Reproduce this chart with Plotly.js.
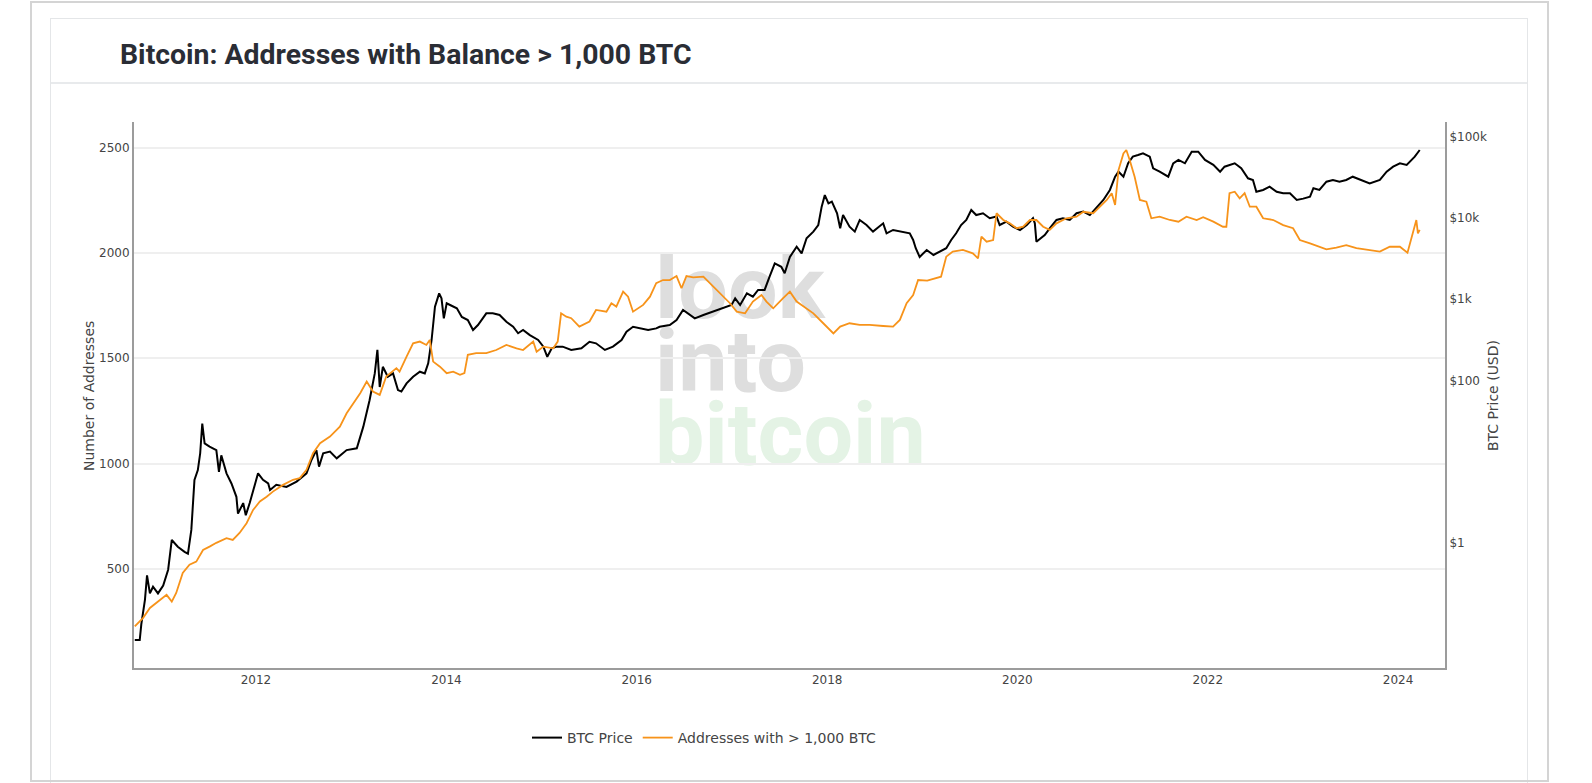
<!DOCTYPE html>
<html>
<head>
<meta charset="utf-8">
<script src="https://cdn.plot.ly/plotly-3.0.1.min.js"></script>
<style>
  html, body { margin:0; padding:0; background:#fff; }
  #wrap { position:relative; width:1592px; height:783px; overflow:hidden; }
  #bg { position:absolute; left:0; top:0; z-index:0; }
  #chart { position:absolute; left:0; top:0; z-index:1; width:1592px; height:783px; }
</style>
</head>
<body>
<div id="wrap">
<svg id="bg" width="1592" height="783" xmlns="http://www.w3.org/2000/svg">
  <rect x="0" y="0" width="1592" height="783" fill="#ffffff"/>
  <rect x="50.5" y="18.5" width="1477" height="780" fill="#ffffff" stroke="#e4e6e8" stroke-width="1"/>
  <rect x="31" y="2" width="1517" height="779" fill="none" stroke="#d4d4d4" stroke-width="2"/>
  <line x1="51" y1="83" x2="1527" y2="83" stroke="#e8eaec" stroke-width="2"/>
  <text font-family="Roboto, 'Noto Sans', sans-serif" font-weight="700" font-size="88">
    <tspan x="655" y="318" fill="#dedede">look</tspan>
    <tspan x="655" y="391" fill="#dedede">into</tspan>
    <tspan x="655" y="464" fill="#e4f3e5">bitcoin</tspan>
  </text>
</svg>
<div id="chart"></div>
</div>
<script>
// ---- data ----
const btcDates = [
'2010-09-23','2010-10-12','2010-10-18','2010-11-01','2010-11-09','2010-11-20','2010-12-02','2010-12-21',
'2011-01-10','2011-01-29','2011-02-12','2011-03-07','2011-04-02','2011-04-15','2011-04-28','2011-05-10',
'2011-05-23','2011-06-01','2011-06-09','2011-06-18','2011-07-07','2011-08-02','2011-08-12','2011-08-21',
'2011-09-10','2011-09-29','2011-10-18','2011-10-24','2011-11-13','2011-11-23','2011-12-08','2011-12-27',
'2012-01-09','2012-01-28','2012-02-17','2012-02-24','2012-03-19','2012-04-27','2012-06-05','2012-07-13',
'2012-08-01','2012-08-20','2012-08-30','2012-09-15','2012-10-11','2012-11-06','2012-12-14',
'2013-01-22','2013-02-16','2013-03-12','2013-04-01','2013-04-11','2013-04-20','2013-05-02','2013-05-21',
'2013-06-10','2013-06-29','2013-07-12','2013-08-01','2013-08-26','2013-09-21','2013-10-10','2013-10-23',
'2013-11-05','2013-11-18','2013-12-04','2013-12-13','2013-12-22',
'2014-01-02','2014-01-15','2014-02-10','2014-03-01','2014-03-24','2014-04-13','2014-05-02','2014-06-03',
'2014-06-28','2014-07-24','2014-08-19','2014-09-14','2014-10-03','2014-10-22','2014-11-17','2014-12-19',
'2015-01-08','2015-01-23','2015-02-09','2015-02-28','2015-03-23','2015-04-25','2015-06-03','2015-07-04',
'2015-07-29','2015-09-01','2015-10-02','2015-11-04','2015-11-23','2015-12-18',
'2016-01-13','2016-02-14','2016-03-16','2016-03-29','2016-05-07','2016-06-02','2016-06-27','2016-07-16',
'2016-08-11','2016-09-13','2016-10-21','2016-11-28','2016-12-30',
'2017-01-13','2017-02-01','2017-02-27','2017-03-22','2017-04-11','2017-05-06','2017-05-25','2017-06-14',
'2017-07-09','2017-07-22','2017-08-11','2017-09-06','2017-09-25','2017-10-14','2017-11-09','2017-11-28',
'2017-12-11','2017-12-23',
'2018-01-06','2018-01-19','2018-02-08','2018-02-20','2018-03-03','2018-03-28','2018-04-17','2018-05-06',
'2018-06-01','2018-06-26','2018-08-04','2018-08-17','2018-09-11','2018-10-19','2018-11-14','2018-11-27',
'2018-12-07','2018-12-22',
'2019-01-18','2019-02-13','2019-03-08','2019-04-03','2019-04-22','2019-05-11','2019-05-30','2019-06-19',
'2019-07-08','2019-07-27','2019-08-22','2019-09-17','2019-10-13','2019-10-25','2019-11-20','2019-12-15',
'2020-01-11','2020-02-06','2020-03-01','2020-03-08','2020-03-14','2020-04-15','2020-05-04','2020-05-30',
'2020-06-24','2020-07-20','2020-08-15','2020-09-10','2020-10-05','2020-11-01','2020-11-26','2020-12-21',
'2021-01-10','2021-01-23','2021-02-11','2021-03-01','2021-03-19','2021-04-08','2021-04-27','2021-05-23',
'2021-06-05','2021-06-30','2021-08-02','2021-08-21','2021-09-10','2021-10-05','2021-10-31','2021-11-25',
'2021-12-21',
'2022-01-22','2022-02-17','2022-03-06','2022-04-14','2022-05-09','2022-06-04','2022-06-23','2022-07-06',
'2022-08-01','2022-08-26','2022-09-22','2022-10-17','2022-11-12','2022-12-08',
'2023-01-02','2023-01-28','2023-02-10','2023-03-05','2023-04-01','2023-04-26','2023-05-21','2023-06-16',
'2023-07-11','2023-08-13','2023-09-14','2023-10-23','2023-11-18','2023-12-13',
'2024-01-08','2024-02-03','2024-02-16','2024-03-05','2024-03-24'
];
const btcPrice = [
0.064,0.064,0.10,0.20,0.40,0.24,0.29,0.24,
0.30,0.47,1.09,0.90,0.78,0.74,1.45,5.96,
7.9,12.7,29.5,16.8,15.3,13.9,7.5,12.0,
7.2,5.4,3.7,2.3,3.1,2.2,3.1,4.9,
7.2,6.0,5.4,4.5,5.2,4.9,5.7,7.2,
10.5,13.9,8.7,12.7,13.3,11.0,13.9,
14.6,27,57,122,237,83,147,111,
122,76,73,92,111,128,122,162,
314,807,1176,1023,580,
887,846,770,604,553,417,480,668,
668,638,527,457,380,417,361,314,
260,195,248,260,260,237,248,299,
286,237,260,314,398,457,
436,417,436,457,480,553,736,668,
580,638,700,770,846,
1023,846,1176,1070,1295,1295,1890,2754,
2500,2075,3300,4415,3655,5600,6760,8150,
13700,19000,
15060,15800,11360,7420,10800,7760,6760,9400,
8150,6760,8550,6450,7080,6760,6450,5330,
4220,3300,
4020,3490,3830,4220,5330,6450,8150,9400,
12480,10800,11360,9870,10380,8150,8950,7760,
7080,8150,9870,8550,5080,6140,7420,9400,
9870,9400,11360,11900,10800,13700,16550,22000,
32000,36900,32000,46800,56500,59200,62100,56500,
40600,36900,32000,46800,51400,46800,65000,65000,
51400,
44700,36900,42500,46800,40600,30600,29200,20900,
22000,24100,20900,20000,20000,16550,
17200,18200,23100,22000,27800,29200,27800,29200,
32000,29200,26500,29200,36900,42500,
46800,44700,49000,56500,68200
];

const addrDates = [
'2010-09-23','2010-10-25','2010-11-20','2010-12-28','2011-01-23','2011-02-12','2011-03-01','2011-03-26',
'2011-04-21','2011-05-17','2011-06-12','2011-07-07','2011-08-02','2011-09-10','2011-10-04','2011-10-30',
'2011-11-26','2011-12-21',
'2012-01-16','2012-02-11','2012-03-06','2012-04-14','2012-05-22','2012-06-17','2012-07-13','2012-08-07',
'2012-09-03','2012-10-11','2012-11-18','2012-12-14',
'2013-01-09','2013-02-04','2013-03-01','2013-03-25','2013-04-20','2013-05-15','2013-06-23','2013-07-05',
'2013-08-01','2013-08-26','2013-09-21','2013-10-16','2013-10-29','2013-11-11','2013-12-07',
'2014-01-02','2014-01-27','2014-02-22','2014-03-11','2014-03-24','2014-04-25','2014-06-03','2014-07-11',
'2014-08-19','2014-09-27','2014-10-22','2014-11-30','2014-12-13',
'2015-01-08','2015-02-15','2015-03-04','2015-03-17','2015-04-06','2015-04-25','2015-05-26','2015-07-04',
'2015-07-29','2015-09-07','2015-09-26','2015-10-15','2015-11-10','2015-11-29','2015-12-18',
'2016-01-26','2016-02-21','2016-03-16','2016-04-11','2016-05-07','2016-06-02','2016-06-21','2016-07-10',
'2016-08-05','2016-09-13','2016-10-08','2016-11-16','2016-12-24',
'2017-01-19','2017-02-20','2017-03-22','2017-04-24','2017-05-13','2017-06-08','2017-07-16','2017-08-11',
'2017-09-06','2017-10-14','2017-11-09','2017-12-17',
'2018-01-25','2018-02-20','2018-03-28','2018-05-06','2018-06-13','2018-08-04','2018-09-11','2018-10-07',
'2018-11-02','2018-11-27','2018-12-16',
'2019-01-20','2019-03-14','2019-04-03','2019-04-28','2019-06-06','2019-07-14','2019-08-03','2019-08-16',
'2019-09-05','2019-09-30','2019-10-13','2019-11-08','2019-12-03','2019-12-29',
'2020-01-23','2020-02-18','2020-03-14','2020-04-09','2020-05-04','2020-05-30','2020-07-07','2020-08-15',
'2020-09-10','2020-10-18','2020-11-13','2020-12-09','2020-12-28',
'2021-01-10','2021-01-23','2021-02-11','2021-02-22','2021-03-07','2021-03-26','2021-04-15','2021-05-10',
'2021-05-29','2021-06-30','2021-08-08','2021-09-10','2021-10-11','2021-11-19','2021-12-14',
'2022-01-22','2022-02-28','2022-03-13','2022-03-25','2022-04-14','2022-05-03','2022-05-22','2022-06-11',
'2022-07-06','2022-08-01','2022-09-09','2022-10-17','2022-11-24','2022-12-20',
'2023-01-28','2023-03-05','2023-04-01','2023-05-09','2023-06-16','2023-07-25','2023-09-14','2023-10-23',
'2023-11-30',
'2024-01-08','2024-02-06','2024-02-22','2024-03-11','2024-03-17','2024-03-24'
];
const addrCount = [
227,268,315,353,377,345,386,481,
520,535,590,606,624,646,638,671,
717,780,
820,843,867,899,923,931,970,1049,
1097,1128,1175,1239,
1287,1334,1389,1342,1326,1413,1453,1436,
1508,1571,1579,1563,1587,1484,1460,
1429,1436,1421,1429,1516,1524,1524,1539,
1563,1547,1539,1579,1531,
1555,1547,1579,1713,1697,1690,1650,1674,
1729,1721,1761,1745,1816,1792,1721,
1753,1792,1856,1871,1871,1890,1832,1890,
1884,1887,1856,1808,1761,
1721,1713,1769,1800,1769,1737,1785,1816,
1769,1737,1713,1666,
1618,1650,1666,1658,1658,1653,1650,1682,
1761,1800,1871,
1868,1887,1982,2006,2014,1998,1974,2077,
2053,2061,2188,2156,2140,2117,
2124,2156,2156,2124,2109,2140,2164,2172,
2195,2188,2219,2251,2283,
2227,2393,2472,2488,2441,2361,2251,2243,
2164,2172,2156,2148,2172,2156,2169,
2148,2124,2124,2283,2290,2259,2283,2219,
2219,2164,2156,2132,2117,2061,
2045,2029,2017,2025,2037,2022,2014,2006,
2029,
2029,2001,2077,2156,2093,2109
];

const priceTickVals = [1, 100, 1000, 10000, 100000];
const priceTickText = ['$1', '$100', '$1k', '$10k', '$100k'];
const traceNames = ['BTC Price', 'Addresses with > 1,000 BTC'];

// ---- chart ----
const tickFont = {family: 'DejaVu Sans, Verdana, sans-serif', size: 12, color: '#444'};
const axisLine = '#9c9c9c';

const traces = [
  {x: btcDates, y: btcPrice, name: traceNames[0], type: 'scatter', mode: 'lines',
   yaxis: 'y', line: {color: '#000000', width: 2}},
  {x: addrDates, y: addrCount, name: traceNames[1], type: 'scatter', mode: 'lines',
   yaxis: 'y2', line: {color: '#f7931a', width: 1.8}}
];

const layout = {
  width: 1592, height: 783,
  margin: {l: 134, r: 147, t: 122, b: 115, pad: 0},
  paper_bgcolor: 'rgba(0,0,0,0)', plot_bgcolor: 'rgba(0,0,0,0)',
  title: {text: 'Bitcoin: Addresses with Balance > 1,000 BTC',
          xref: 'container', x: 120/1592, xanchor: 'left',
          yref: 'container', y: 1 - 54/783, yanchor: 'middle',
          font: {family: 'Roboto, sans-serif', size: 28.4, color: '#2a2d35', weight: 700}},
  showlegend: true,
  legend: {orientation: 'h', x: (527-134)/1311, xanchor: 'left', y: (668-738)/546, yanchor: 'middle',
           font: {family: 'DejaVu Sans, Verdana, sans-serif', size: 14, color: '#444'},
           bgcolor: 'rgba(0,0,0,0)'},
  xaxis: {type: 'date', range: ['2010-09-20', '2024-06-29'], tick0: '2012-01-01', dtick: 'M24',
          tickformat: '%Y', showgrid: false, zeroline: false, showline: true, linecolor: axisLine,
          linewidth: 2, ticks: '', tickfont: tickFont},
  yaxis: {type: 'log', side: 'right', range: [-1.537, 5.178], tickvals: priceTickVals, ticktext: priceTickText,
          showgrid: false, zeroline: false, showline: true, linecolor: axisLine, linewidth: 2,
          ticks: '', tickfont: tickFont},
  yaxis2: {overlaying: 'y', side: 'left', range: [30, 2621], tick0: 0, dtick: 500,
           showgrid: true, gridcolor: '#efefef', gridwidth: 2, zeroline: false,
           showline: true, linecolor: axisLine, linewidth: 2, ticks: '', tickfont: tickFont},
  annotations: [
    {text: 'Number of Addresses', xref: 'paper', yref: 'paper', x: (89-134)/1311, y: (668-396)/546,
     textangle: -90, showarrow: false, xanchor: 'center', yanchor: 'middle',
     font: {family: 'DejaVu Sans, Verdana, sans-serif', size: 14, color: '#444'}},
    {text: 'BTC Price (USD)', xref: 'paper', yref: 'paper', x: (1493-134)/1311, y: (668-396)/546,
     textangle: -90, showarrow: false, xanchor: 'center', yanchor: 'middle',
     font: {family: 'DejaVu Sans, Verdana, sans-serif', size: 14, color: '#444'}}
  ]
};

Plotly.newPlot('chart', traces, layout, {staticPlot: true, displayModeBar: false});
</script>
</body>
</html>
